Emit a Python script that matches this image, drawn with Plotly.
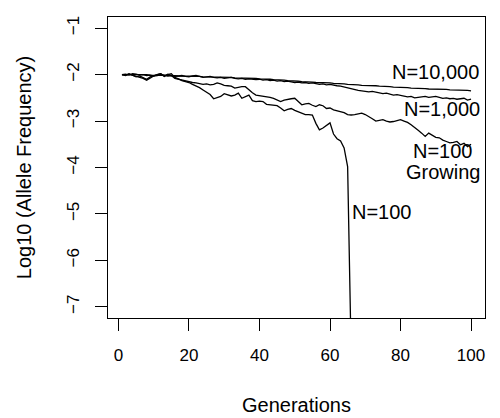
import plotly.graph_objects as go

generations = list(range(1, 101))

n10000 = [-2.00, -2.00, -1.99, -1.99, -1.99, -2.00, -2.00, -2.00, -2.01, -2.01,
          -2.01, -2.01, -2.02, -2.02, -2.02, -2.02, -2.03, -2.03, -2.03, -2.03,
          -2.04, -2.04, -2.04, -2.05, -2.05, -2.05, -2.05, -2.05, -2.06, -2.06,
          -2.06, -2.06, -2.07, -2.07, -2.07, -2.07, -2.07, -2.08, -2.08, -2.09,
          -2.09, -2.10, -2.10, -2.11, -2.11, -2.12, -2.12, -2.13, -2.13, -2.14,
          -2.14, -2.15, -2.15, -2.16, -2.16, -2.17, -2.17, -2.17, -2.18, -2.18,
          -2.19, -2.19, -2.20, -2.20, -2.21, -2.21, -2.22, -2.22, -2.23, -2.23,
          -2.24, -2.24, -2.24, -2.25, -2.25, -2.26, -2.26, -2.27, -2.27, -2.27,
          -2.28, -2.28, -2.29, -2.29, -2.29, -2.30, -2.30, -2.31, -2.31, -2.31,
          -2.32, -2.32, -2.32, -2.33, -2.33, -2.33, -2.34, -2.34, -2.34, -2.35]

n1000 = [-2.00, -1.99, -2.01, -1.98, -1.99, -2.01, -2.00, -2.02, -2.01, -2.03,
         -2.02, -2.00, -2.01, -2.03, -2.02, -2.04, -2.03, -2.02, -2.04, -2.05,
         -2.03, -2.02, -2.04, -2.06, -2.05, -2.04, -2.06, -2.07, -2.06, -2.08,
         -2.07, -2.06, -2.08, -2.09, -2.08, -2.10, -2.09, -2.10, -2.11, -2.10,
         -2.12, -2.11, -2.13, -2.12, -2.14, -2.13, -2.15, -2.14, -2.16, -2.17,
         -2.16, -2.18, -2.17, -2.19, -2.18, -2.20, -2.21, -2.20, -2.22, -2.21,
         -2.23, -2.24, -2.25, -2.27, -2.28, -2.30, -2.32, -2.34, -2.35, -2.36,
         -2.37, -2.36, -2.38, -2.40, -2.41, -2.40, -2.42, -2.44, -2.43, -2.45,
         -2.46, -2.48, -2.47, -2.50, -2.49, -2.48, -2.47, -2.49, -2.48, -2.47,
         -2.49, -2.51, -2.50, -2.52, -2.51, -2.53, -2.52, -2.51, -2.55, -2.53]

n100_growing = [-2.00, -2.01, -1.98, -2.02, -2.05, -2.03, -2.07, -2.10, -2.05, -2.02,
                -2.00, -1.98, -2.03, -1.99, -2.02, -2.08, -2.10, -2.11, -2.14, -2.16,
                -2.17, -2.18, -2.20, -2.21, -2.20, -2.22, -2.21, -2.18, -2.20, -2.23,
                -2.24, -2.25, -2.29, -2.27, -2.26, -2.26, -2.33, -2.39, -2.44, -2.45,
                -2.46, -2.47, -2.49, -2.51, -2.55, -2.58, -2.55, -2.53, -2.52, -2.51,
                -2.58, -2.65, -2.63, -2.62, -2.66, -2.69, -2.65, -2.67, -2.73, -2.72,
                -2.76, -2.78, -2.80, -2.82, -2.86, -2.87, -2.86, -2.85, -2.83, -2.86,
                -2.90, -2.95, -3.00, -2.98, -2.97, -3.00, -3.02, -3.01, -2.99, -2.97,
                -3.00, -3.03, -3.08, -3.15, -3.20, -3.26, -3.33, -3.26, -3.30, -3.35,
                -3.36, -3.41, -3.44, -3.47, -3.46, -3.44, -3.51, -3.48, -3.55, -3.50]

# constant N=100 population: lost after generation 66
n100 = [-2.00, -2.02, -1.99, -2.01, -2.04, -2.06, -2.08, -2.12, -2.07, -2.03,
        -2.00, -1.98, -2.04, -2.00, -1.98, -2.06, -2.09, -2.13, -2.15, -2.17,
        -2.21, -2.24, -2.28, -2.33, -2.38, -2.43, -2.52, -2.50, -2.47, -2.41,
        -2.43, -2.46, -2.44, -2.40, -2.51, -2.47, -2.44, -2.56, -2.58, -2.57,
        -2.58, -2.64, -2.65, -2.66, -2.67, -2.72, -2.78, -2.75, -2.73, -2.77,
        -2.80, -2.83, -2.86, -2.86, -2.87, -3.05, -3.19, -3.15, -3.10, -3.04,
        -3.28, -3.38, -3.43, -3.58, -3.98, -8.00]

x_ticks = [0, 20, 40, 60, 80, 100]
y_ticks = [-7, -6, -5, -4, -3, -2, -1]

font = "Liberation Sans, Arial, sans-serif"
fs = 17
label_fs = 20

fig = go.Figure()
for ys in [n10000, n1000, n100_growing, n100]:
    fig.add_trace(go.Scatter(x=generations[:len(ys)], y=ys, mode="lines",
                             line=dict(color="black", width=1.3), showlegend=False))

labels = [("N=10,000", 90.0, -1.94), ("N=1,000", 91.9, -2.75),
          ("N=100", 92.1, -3.65), ("Growing", 92.1, -4.09), ("N=100", 74.7, -4.96)]
for txt, lx, ly in labels:
    fig.add_annotation(x=lx, y=ly, text=txt, showarrow=False,
                       font=dict(family=font, size=label_fs, color="black"))

fig.update_layout(
    width=500, height=418,
    margin=dict(l=108, r=15, t=17, b=100),
    plot_bgcolor="white", paper_bgcolor="white",
    font=dict(family=font, size=fs, color="black"),
)
fig.update_xaxes(range=[-2.96, 103.96], tickvals=x_ticks, ticks="outside", ticklen=12,
                 tickcolor="black", showline=True, linecolor="black", mirror=True,
                 showgrid=False, zeroline=False, automargin=False, ticklabelstandoff=10,
                 title=dict(text="Generations", standoff=33))
fig.update_yaxes(range=[-7.24, -0.76], tickvals=y_ticks, ticks="outside", ticklen=12,
                 tickcolor="black", showline=True, linecolor="black", mirror=True,
                 showgrid=False, zeroline=False, automargin=False, tickangle=-90,
                 ticklabelstandoff=9,
                 title=dict(text="Log10 (Allele Frequency)", standoff=27))

fig.write_html("out.html", config={"displayModeBar": False},
               post_script="document.body.style.margin='0';")
